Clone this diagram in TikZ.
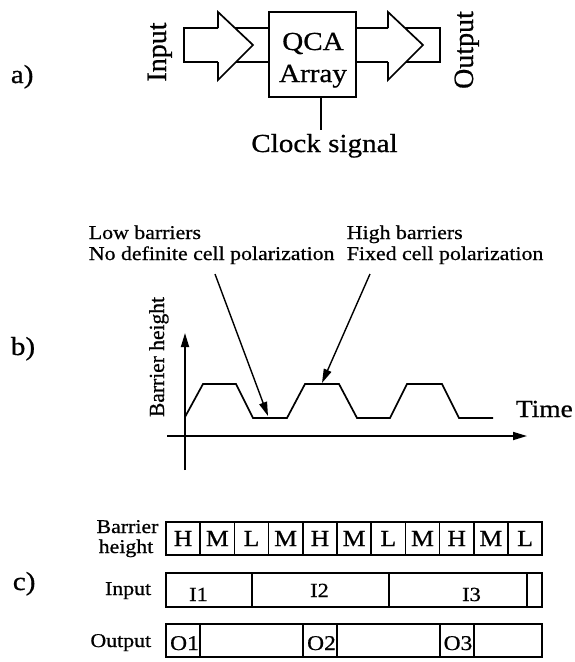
\documentclass[tikz,border=0pt]{standalone}
\usepackage{fontspec}
\setmainfont{Liberation Serif}[FakeStretch=1.12,FakeBold=0.7]
\newfontfamily\rotfont{Liberation Serif}[FakeBold=0.7]
\usetikzlibrary{arrows.meta}
\tikzset{
  lbl/.style={font=\fontsize{#1}{#1}\selectfont, inner sep=0pt},
  rlbl/.style={font=\rotfont\fontsize{#1}{#1}\selectfont, inner sep=0pt, rotate=90, anchor=base},
  cellbox/.style={draw, inner sep=0pt, minimum width=#1, minimum height=33pt},
  pointer/.style={-{Triangle[length=14pt,width=8pt]}},
}
\begin{document}
\begin{tikzpicture}[x=1pt,y=-1pt,line width=1.7pt]
\useasboundingbox (0,0) rectangle (574,662);

% ---------- a) ----------
\node[lbl=26, anchor=base west] (la) at (10,83) {a)};
\node[draw, minimum width=87pt, minimum height=85pt, inner sep=0pt] (qca) at (312.5,54.5) {};
\node[lbl=26, anchor=base] (qcat) at (313,50) {QCA};
\node[lbl=26, anchor=base] (arrt) at (313,82) {Array};
% input arrow
\draw (qca.west |- 0,28) -- (184,28) -- (184,62) -- (qca.west |- 0,62);
\fill[white] (218,12) -- (253,45) -- (218,80) -- cycle;
\draw (218,28) -- (218,12) -- (253,45) -- (218,80) -- (218,62);
% output arrow
\draw (qca.east |- 0,28) -- (440,28) -- (440,62) -- (qca.east |- 0,62);
\fill[white] (388,12) -- (423,45) -- (388,80) -- cycle;
\draw (388,28) -- (388,12) -- (423,45) -- (388,80) -- (388,62);
\node[rlbl=28] (inlab) at (166,52) {Input};
\node[rlbl=28] (outlab) at (473,50) {Output};
% clock
\coordinate (clktop) at (321,97);
\coordinate (clkend) at (321,130);
\draw (clktop) -- (clkend);
\node[lbl=26, anchor=base] (clk) at (324.5,152) {Clock signal};

% ---------- b) ----------
\node[lbl=26, anchor=base west] (lb) at (10,355) {b)};
\node[lbl=19.5, anchor=base west] (low1) at (88,239) {Low barriers};
\node[lbl=19.5, anchor=base west] (low2) at (88,260) {No definite cell polarization};
\node[lbl=19.5, anchor=base west] (high1) at (346,239) {High barriers};
\node[lbl=19.5, anchor=base west] (high2) at (346,260) {Fixed cell polarization};
\coordinate (p1s) at (215,274);
\coordinate (p1e) at (268,416);
\coordinate (p2s) at (370,274);
\coordinate (p2e) at (322,383);
\draw[pointer, line width=1.4pt] (p1s) -- (p1e);
\draw[pointer, line width=1.4pt] (p2s) -- (p2e);
\coordinate (yb) at (185,470);
\coordinate (yt) at (185,333);
\coordinate (xl) at (167,436);
\coordinate (xr) at (527,436);
\draw[pointer] (yb) -- (yt);
\draw[pointer] (xl) -- (xr);
\draw (185,417) -- (203,384) -- (236,384) -- (253,418) -- (287,418) -- (305,384)
      -- (339,384) -- (357,418) -- (390,418) -- (407,384) -- (442,384) -- (459,418) -- (493,418);
\node[lbl=24.5, anchor=base west] (time) at (515,417) {Time};
\node[rlbl=21.5] (bh) at (164,357) {Barrier height};

% ---------- c) ----------
\node[lbl=26, anchor=base west] (lc) at (12,590) {c)};
\node[lbl=19.5, anchor=base] (bar1) at (127.5,533) {Barrier};
\node[lbl=19.5, anchor=base] (bar2) at (126,553) {height};
\node[lbl=19.5, anchor=base east] (inl) at (152,595) {Input};
\node[lbl=19.5, anchor=base east] (outl) at (152,647) {Output};
\foreach \l [count=\i] in {H,M,L,M,H,M,L,M,H,M,L}
  \node[cellbox=34.2pt, font=\fontsize{23}{23}\selectfont] (b\i) at ({166+34.2*(\i-0.5)},538.5) {\l};
% input row
\node[cellbox=86pt, minimum height=34pt] (in1) at (209,590) {};
\node[cellbox=137pt, minimum height=34pt] (in2) at (320.5,590) {};
\node[cellbox=138pt, minimum height=34pt] (in3) at (458,590) {};
\node[cellbox=15pt, minimum height=34pt] (in4) at (534.5,590) {};
\node[lbl=20, anchor=base] (i1) at (198.5,601) {I1};
\node[lbl=20, anchor=base] (i2) at (319.5,597) {I2};
\node[lbl=20, anchor=base] (i3) at (471.5,601) {I3};
% output row
\node[cellbox=34pt] (o1) at (183,640.5) {};
\node[cellbox=103pt] (o1b) at (251.5,640.5) {};
\node[cellbox=34pt] (o2) at (320,640.5) {};
\node[cellbox=103pt] (o2b) at (388.5,640.5) {};
\node[cellbox=34pt] (o3) at (457,640.5) {};
\node[cellbox=68pt] (o3b) at (508,640.5) {};
\node[lbl=21, anchor=base] (o1t) at (184.5,650) {O1};
\node[lbl=21, anchor=base] (o2t) at (321.5,650) {O2};
\node[lbl=21, anchor=base] (o3t) at (458,650) {O3};
\end{tikzpicture}
\end{document}
